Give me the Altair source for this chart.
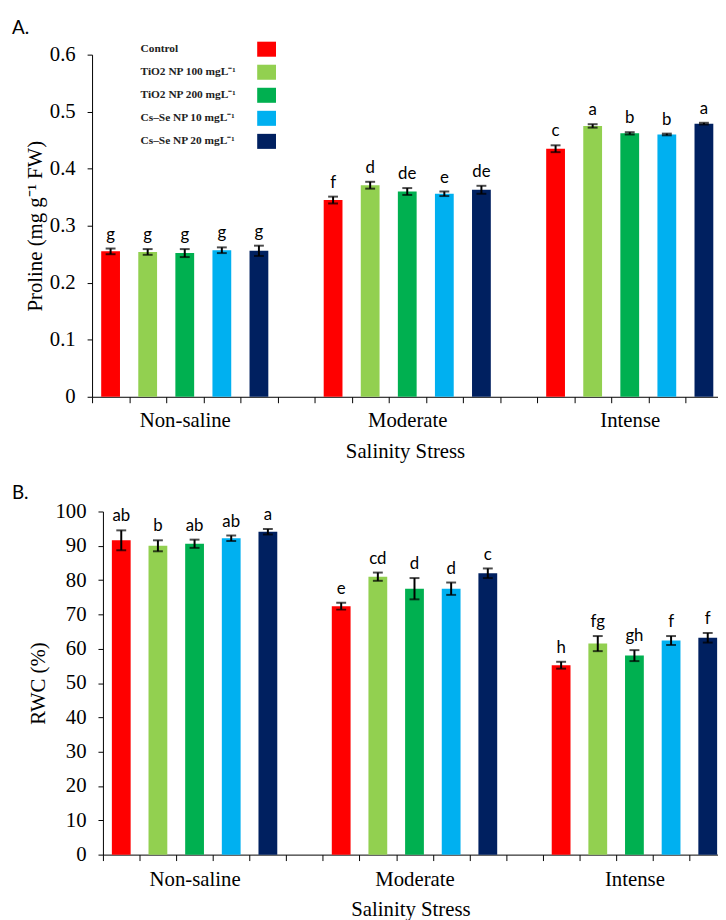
import altair as alt
import pandas as pd

levels = ["Non-saline", "Moderate", "Intense"]
treatments = ["Control", "TiO2 NP 100 mgL⁻¹", "TiO2 NP 200 mgL⁻¹",
              "Cs–Se NP 10 mgL⁻¹", "Cs–Se NP 20 mgL⁻¹"]
swatch_ids = ["s1", "s2", "s3", "s4", "s5"]
colors = ["#FF0000", "#92D050", "#00B050", "#00B0F0", "#002060"]

proline_mean = [[0.255, 0.254, 0.252, 0.257, 0.256],
                [0.345, 0.371, 0.360, 0.356, 0.363],
                [0.435, 0.475, 0.462, 0.460, 0.479]]
proline_err = [[0.005, 0.005, 0.007, 0.005, 0.009],
               [0.006, 0.006, 0.006, 0.004, 0.007],
               [0.006, 0.003, 0.002, 0.0015, 0.0015]]
proline_letters = [["g", "g", "g", "g", "g"],
                   ["f", "d", "de", "e", "de"],
                   ["c", "a", "b", "b", "a"]]
proline_ticks = [0, 0.1, 0.2, 0.3, 0.4, 0.5, 0.6]

rwc_mean = [[91.6, 90.0, 90.6, 92.2, 94.1],
            [72.4, 81.0, 77.5, 77.5, 82.0],
            [55.2, 61.5, 58.0, 62.4, 63.2]]
rwc_err = [[2.9, 1.6, 1.2, 0.8, 0.8],
           [1.0, 1.2, 3.1, 1.8, 1.4],
           [1.0, 2.2, 1.6, 1.3, 1.4]]
rwc_letters = [["ab", "b", "ab", "ab", "a"],
               ["e", "cd", "d", "d", "c"],
               ["h", "fg", "gh", "f", "f"]]
rwc_ticks = [0, 10, 20, 30, 40, 50, 60, 70, 80, 90, 100]

SERIF = "Liberation Serif, Times New Roman, serif"
SANS = "Lato, sans-serif"


def make_df(means, errs, letters):
    rows = []
    for li, lev in enumerate(levels):
        for ti, tr in enumerate(treatments):
            m = means[li][ti]
            e = errs[li][ti]
            rows.append({"level": lev, "treat": tr, "sym": swatch_ids[ti],
                         "pos": li * 6 + ti + 0.5,
                         "mean": m, "lo": m - e, "hi": m + e,
                         "letter": letters[li][ti]})
    return pd.DataFrame(rows)


label_expr = ("datum.value == 2 ? 'Non-saline' : datum.value == 8 ? 'Moderate' : "
              "datum.value == 14 ? 'Intense' : ''")

RECT = "M-1,-0.8H1V0.8H-1Z"


def legend_pair():
    common = dict(orient="none", legendY=-15, title=None, symbolType=RECT,
                  symbolSize=361, symbolStrokeWidth=0, labelFont=SERIF,
                  labelFontWeight="bold", labelFontSize=11.5, labelColor="#222222",
                  rowPadding=5.3, padding=0, labelLimit=0)
    text_leg = alt.Legend(legendX=26, symbolOpacity=0, **common)
    swatch_leg = alt.Legend(legendX=167, labelOpacity=0, symbolOpacity=1, **common)
    return text_leg, swatch_leg


def panel(df, title, ytitle, ydomain, yvalues, yfmt, xmax, x0, slot, height,
          with_legend, title_offset, title_dy, ytitle_pad, xlabel_pad):
    W = 633
    xscale = alt.Scale(domain=[0, xmax], range=[x0, W], nice=False, zero=False,
                       padding=0)
    yscale = alt.Scale(domain=ydomain, nice=False, zero=True, padding=0)
    axis_font = dict(labelFont=SERIF, titleFont=SERIF, labelFontSize=21,
                     titleFontSize=21, titleFontWeight="normal", labelColor="black",
                     titleColor="black", domainColor="black", tickColor="black",
                     grid=False, labelOverlap=False)
    xaxis = alt.Axis(values=list(range(17)), labelExpr=label_expr, labelOffset=slot / 2,
                     title="Salinity Stress", tickSize=6, tickCount=20,
                     labelPadding=xlabel_pad, titlePadding=10, labelFlush=False,
                     **axis_font)
    yaxis = alt.Axis(values=yvalues, tickCount=len(yvalues) + 2, format=yfmt,
                     title=ytitle, tickSize=5, labelPadding=12,
                     titlePadding=ytitle_pad, offset=-x0, labelFlush=False, **axis_font)

    def X(field):
        return alt.X(field, type="quantitative", scale=xscale, axis=xaxis)

    def Y(field):
        return alt.Y(field, type="quantitative", scale=yscale, axis=yaxis)

    if with_legend:
        text_leg, swatch_leg = legend_pair()
    else:
        text_leg, swatch_leg = None, None
    base = alt.Chart(df)
    bars = base.mark_bar(size=19).encode(
        x=X("pos"), y=Y("mean"),
        color=alt.Color("treat:N", scale=alt.Scale(domain=treatments, range=colors),
                        legend=text_leg),
    )
    rule = base.mark_rule(color="black", strokeWidth=2).encode(
        x=X("pos"), y=Y("lo"), y2="hi:Q")
    cap_lo = base.mark_tick(color="black", orient="horizontal", size=10, thickness=2).encode(
        x=X("pos"), y=Y("lo"))
    cap_hi = base.mark_tick(color="black", orient="horizontal", size=10, thickness=2).encode(
        x=X("pos"), y=Y("hi"))
    text = base.mark_text(dy=-5, baseline="bottom", font=SANS, fontSize=17,
                          color="black").encode(x=X("pos"), y=Y("hi"), text="letter:N")
    layers = [bars, rule, cap_lo, cap_hi, text]
    if with_legend:
        swatches = base.mark_square().encode(
            fill=alt.Fill("sym:N", scale=alt.Scale(domain=swatch_ids, range=colors),
                          legend=swatch_leg)
        ).transform_filter("false")
        layers.append(swatches)
    return alt.layer(*layers).properties(
        width=W, height=height,
        title=alt.TitleParams(title, anchor="start", frame="group", font=SANS,
                              fontSize=19, fontWeight="normal", dx=-81,
                              offset=title_offset, dy=title_dy, color="black"),
    )


chartA = panel(make_df(proline_mean, proline_err, proline_letters), "A.",
               "Proline (mg g⁻¹ FW)", [0, 0.6], proline_ticks,
               ".1~f", 16.88, 0, 37.5, 346, True, 2, 0, 4, 7)
chartB = panel(make_df(rwc_mean, rwc_err, rwc_letters), "B.", "RWC (%)", [0, 100],
               rwc_ticks, "d", 16.78, 11, 37.06, 347, False, 0, 2, 7, 8)

chart = alt.vconcat(chartA, chartB, spacing=23).resolve_scale(
    color="independent", fill="independent"
).configure_view(stroke=None).properties(
    padding={"left": 4, "top": 6, "right": 0, "bottom": 0}
)

chart.save("out.html", embed_options={"renderer": "svg", "actions": False})
